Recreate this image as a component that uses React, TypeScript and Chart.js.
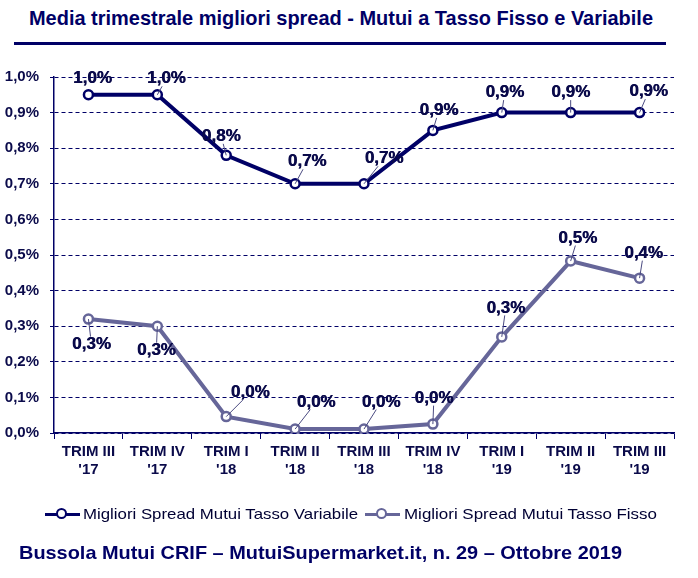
import React, { useEffect, useLayoutEffect, useRef } from "react";
import { Chart, registerables } from "chart.js";

Chart.register(...registerables);

const categories: string[][] = [
  ["TRIM III", "'17"],
  ["TRIM IV", "'17"],
  ["TRIM I", "'18"],
  ["TRIM II", "'18"],
  ["TRIM III", "'18"],
  ["TRIM IV", "'18"],
  ["TRIM I", "'19"],
  ["TRIM II", "'19"],
  ["TRIM III", "'19"],
];
const variabile = [0.95, 0.95, 0.78, 0.7, 0.7, 0.85, 0.9, 0.9, 0.9];
const fisso = [0.32, 0.3, 0.046, 0.011, 0.011, 0.025, 0.27, 0.483, 0.435];
const seriesNames = [
  "Migliori Spread Mutui Tasso Variabile",
  "Migliori Spread Mutui Tasso Fisso",
];
const yMin = 0;
const yMax = 1.0;
const yStep = 0.1;
const titleText = "Media trimestrale migliori spread - Mutui a Tasso Fisso e Variabile";
const footerText = "Bussola Mutui CRIF \u2013 MutuiSupermarket.it, n. 29 \u2013 Ottobre 2019";

const NAVY = "#000066";
const FIX = "#666699";
const TEXT = "#0a0a4a";
const ARIAL = '"Liberation Sans", Arial, sans-serif';

// label offsets (style), per series per point
const labelOffsets = [
  [[4, -16], [9, -16], [-5, -19], [12, -22], [20, -25], [6, -20], [3, -20], [0, -20], [9, -21]],
  [[3, 25], [-1, 24], [24, -24], [21, -27], [17, -27], [1, -26], [4, -29], [7, -23], [4, -25]],
];

const fmt = (v: number) => (Math.round(v * 10 + 1e-9) / 10).toFixed(1).replace(".", ",") + "%";

const labelPlugin = {
  id: "pointLabels",
  afterDatasetsDraw(chart: any) {
    const ctx = chart.ctx as CanvasRenderingContext2D;
    ctx.save();
    ctx.font = `bold 17px ${ARIAL}`;
    ctx.textAlign = "center";
    ctx.textBaseline = "middle";
    chart.data.datasets.forEach((ds: any, di: number) => {
      const meta = chart.getDatasetMeta(di);
      meta.data.forEach((pt: any, i: number) => {
        const text = fmt(ds.data[i]);
        const off = labelOffsets[di][i];
        const lx = pt.x + off[0];
        const ly = pt.y + off[1];
        const hw = ctx.measureText(text).width / 2 + 1;
        const hh = 7.5;
        const dx = pt.x - lx;
        const dy = pt.y - ly;
        const t = Math.min(
          dx !== 0 ? hw / Math.abs(dx) : Infinity,
          dy !== 0 ? hh / Math.abs(dy) : Infinity
        );
        if (t < 1) {
          const ex = lx + dx * t;
          const ey = ly + dy * t;
          if (Math.hypot(pt.x - ex, pt.y - ey) > 9) {
            ctx.strokeStyle = "#4a4a80";
            ctx.lineWidth = 1;
            ctx.beginPath();
            ctx.moveTo(pt.x, pt.y);
            ctx.lineTo(ex, ey);
            ctx.stroke();
          }
        }
        ctx.fillStyle = TEXT;
        ctx.fillText(text, lx, ly);
        ctx.fillText(text, lx + 0.5, ly);
      });
    });
    ctx.restore();
  },
};

function FitText({
  text,
  left,
  top,
  width,
  size,
  bold,
  color,
}: {
  text: string;
  left: number;
  top: number;
  width: number;
  size: number;
  bold?: boolean;
  color: string;
}) {
  const ref = useRef<HTMLSpanElement>(null);
  useLayoutEffect(() => {
    const el = ref.current;
    if (!el) return;
    el.style.transform = "none";
    const w = el.getBoundingClientRect().width;
    if (w > 0) el.style.transform = `scaleX(${width / w})`;
  }, [text, width]);
  return (
    <span
      ref={ref}
      style={{
        position: "absolute",
        left,
        top,
        fontFamily: ARIAL,
        fontWeight: bold ? "bold" : "normal",
        fontSize: size,
        lineHeight: `${size + 2}px`,
        color,
        whiteSpace: "nowrap",
        transformOrigin: "0 0",
        display: "inline-block",
      }}
    >
      {text}
    </span>
  );
}

function LegendIcon({ color, left, top }: { color: string; left: number; top: number }) {
  return (
    <div style={{ position: "absolute", left, top, width: 35, height: 14 }}>
      <div style={{ position: "absolute", left: 0, top: 5.5, width: 35, height: 3, background: color }} />
      <div
        style={{
          position: "absolute",
          left: 11,
          top: 1,
          width: 7,
          height: 7,
          borderRadius: "50%",
          background: "#fff",
          border: `2.5px solid ${color}`,
        }}
      />
    </div>
  );
}

export default function App() {
  const canvasRef = useRef<HTMLCanvasElement>(null);

  useEffect(() => {
    if (!canvasRef.current) return;
    const chart = new Chart(canvasRef.current, {
      type: "line",
      data: {
        labels: categories,
        datasets: [
          {
            label: seriesNames[0],
            data: variabile,
            borderColor: NAVY,
            backgroundColor: "#ffffff",
            borderWidth: 4,
            pointRadius: 4.5,
            pointBorderWidth: 2.5,
            pointBackgroundColor: "#ffffff",
            pointBorderColor: NAVY,
            tension: 0,
          },
          {
            label: seriesNames[1],
            data: fisso,
            borderColor: FIX,
            backgroundColor: "#ffffff",
            borderWidth: 4,
            pointRadius: 4.5,
            pointBorderWidth: 2.5,
            pointBackgroundColor: "#ffffff",
            pointBorderColor: FIX,
            tension: 0,
          },
        ],
      },
      options: {
        animation: false,
        responsive: false,
        maintainAspectRatio: false,
        layout: { padding: { left: 0, right: 24, top: 77, bottom: 85 } },
        plugins: {
          legend: { display: false },
          title: { display: false },
          tooltip: { enabled: false },
        },
        scales: {
          x: {
            type: "category",
            offset: true,
            grid: {
              display: true,
              drawOnChartArea: false,
              drawTicks: true,
              tickLength: 6,
              color: NAVY,
              offset: true,
            },
            border: { color: NAVY, width: 1.5 },
            ticks: {
              autoSkip: false,
              maxRotation: 0,
              minRotation: 0,
              color: TEXT,
              padding: 3,
              font: { family: ARIAL, size: 15, weight: "bold", lineHeight: 1.25 },
            },
            afterFit(s: any) {
              s.height = 60;
            },
          },
          y: {
            min: yMin,
            max: yMax,
            ticks: {
              stepSize: yStep,
              color: TEXT,
              padding: 11,
              font: { family: ARIAL, size: 15, weight: "bold" },
              callback: (v: any) => Number(v).toFixed(1).replace(".", ",") + "%",
            },
            grid: { color: NAVY, lineWidth: 1, tickLength: 4 },
            border: { color: NAVY, width: 1.5, dash: [4, 3] },
            afterFit(s: any) {
              s.width = 54;
            },
          },
        },
      },
      plugins: [labelPlugin],
    } as any);
    return () => chart.destroy();
  }, []);

  return (
    <div style={{ position: "absolute", left: 0, top: 0, width: 698, height: 578, background: "#fff", overflow: "hidden" }}>
      <FitText text={titleText} left={29} top={6} width={624} size={21} bold color={NAVY} />
      <div style={{ position: "absolute", left: 14, top: 42, width: 652, height: 3, background: NAVY }} />
      <canvas ref={canvasRef} width={698} height={578} style={{ position: "absolute", left: 0, top: 0 }} />
      <LegendIcon color={NAVY} left={45} top={507} />
      <FitText text={seriesNames[0]} left={83} top={505} width={275} size={15} color="#000033" />
      <LegendIcon color={FIX} left={365} top={507} />
      <FitText text={seriesNames[1]} left={404} top={505} width={253} size={15} color="#000033" />
      <FitText text={footerText} left={19} top={542} width={603} size={19} bold color={NAVY} />
    </div>
  );
}
